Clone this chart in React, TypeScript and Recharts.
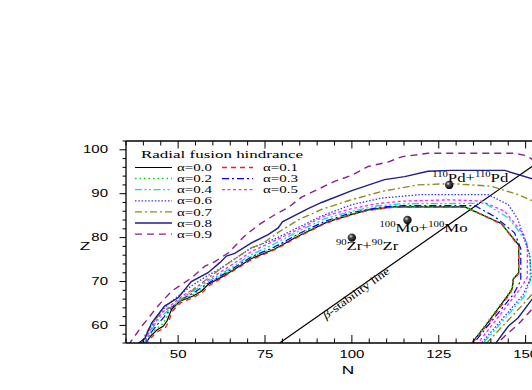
import React from 'react'
import {
  ComposedChart,
  Line,
  Scatter,
  XAxis,
  YAxis,
  Legend,
  ReferenceDot,
  Label,
} from 'recharts'

// alpha of the radial fusion hindrance, one contour each
const ALPHAS = ['0.0', '0.1', '0.2', '0.3', '0.4', '0.5', '0.6', '0.7', '0.8', '0.9']

// contour points, [N, Z]
const A00 = [[40.3, 55.5], [42, 57.5], [44, 59], [45.7, 59.8], [46.8, 61], [48.1, 63.6], [50.5, 65.5], [54.3, 66.7], [56.7, 67.8], [58.6, 69.3], [62.5, 71], [66, 72.7], [71, 75.2], [77.8, 77.4], [82.6, 79.5], [85.5, 80.7], [92.2, 83.3], [95.1, 84.1], [100, 85.3], [104.7, 86.3], [112, 87], [132.5, 87], [143, 83.2], [148, 78.3], [148, 72], [146.4, 70.5], [146.2, 68.6], [145.4, 67.4], [138.7, 60.2], [134, 55.5]]
const A01 = [[40.5, 55.5], [42.3, 57.3], [44.5, 58.8], [46.3, 59.4], [47.2, 60.8], [48.4, 63.3], [50.8, 65.2], [54.5, 66.4], [56.9, 67.5], [58.8, 69], [62.5, 70.8], [66.2, 72.6], [71.2, 75], [78, 77.3], [82.8, 79.4], [85.6, 80.6], [92.3, 83.2], [100, 85.2], [104.8, 86.2], [112, 86.9], [132.8, 86.9], [143.2, 83], [148, 78], [148, 71.8], [146.5, 70.3], [146.3, 68.5], [145.5, 67.2], [138.8, 60], [134.2, 55.5]]
const A02 = [[40.2, 55.5], [41.8, 57.7], [43.8, 59.3], [45.5, 60.3], [46.5, 61.5], [47.8, 63.8], [50.3, 65.6], [54, 66.9], [56.5, 68], [58.4, 69.5], [62.4, 71.2], [65.8, 72.9], [70.8, 75.4], [77.6, 77.6], [82.4, 79.7], [85.4, 80.9], [92.1, 83.4], [100, 85.4], [104.6, 86.4], [112, 87.1], [132.4, 87.1], [142.9, 83.3], [148.1, 78.4], [148.1, 72], [146.4, 70.6], [146.1, 68.7], [145.3, 67.5], [138.6, 60.3], [134, 55.5]]
const A03 = [[40, 55.5], [41.8, 58], [43.8, 60], [45.8, 61.8], [47.8, 63.8], [50.8, 65.9], [54, 67.2], [58, 69.3], [62.5, 71.4], [66, 73.1], [71, 75.6], [77.8, 77.9], [85, 81], [92.2, 83.7], [100, 85.7], [108, 86.9], [115, 87.3], [135.3, 87.3], [141.1, 84.8], [146.8, 81.1], [148.6, 77.5], [148.6, 70.2], [147.5, 68.6], [146.5, 67.1], [134.6, 55.5]]
const A04 = [[39.9, 55.5], [41.8, 58.2], [43.6, 60.6], [45.6, 62.4], [47.8, 63.9], [50.8, 66.1], [54, 67.6], [58, 69.7], [62.5, 71.8], [66, 73.5], [71, 76.1], [77.8, 78.6], [85, 81.6], [92.2, 84.3], [100, 86], [107, 87.2], [114.2, 87.7], [138.3, 87.8], [145, 84.5], [147.3, 82.2], [150.3, 79], [151.3, 75], [151.3, 70.2], [149.7, 66.7], [137.3, 55.5]]
const A05 = [[39.7, 55.5], [41.5, 58.2], [43.4, 60.8], [45.4, 62.9], [48, 64.6], [51, 66.6], [54, 68.1], [58, 70.1], [62.5, 72.3], [66, 74.1], [71, 76.8], [77.8, 79.3], [82.6, 81.1], [92.2, 84.9], [100, 86.6], [107, 87.7], [114.2, 88.3], [128.6, 88.6], [137.3, 88.3], [144, 86], [146.8, 83.3], [149.6, 80.5], [150.5, 77.5], [150.5, 71], [148.3, 68.2], [135.8, 55.5]]
const A06 = [[39.4, 55.5], [41.3, 58.5], [43.3, 61.2], [45.5, 63.6], [48, 65.4], [51, 67.3], [54, 69.1], [58, 71.1], [62.5, 73.1], [66, 75], [71, 77.6], [77.8, 79.7], [87.4, 83.4], [91.2, 84.9], [100, 87.5], [108.5, 89], [120, 89.8], [139.2, 89.8], [145, 87.5], [147.8, 84.1], [149.5, 80], [151.2, 76], [151.6, 71], [149.3, 67], [136.8, 55.5]]
const A07 = [[39, 55.5], [41, 58.5], [43, 61], [45.2, 63], [49, 64.6], [52, 66.6], [56.2, 69.3], [59, 71], [62.5, 73.1], [66, 75], [71.1, 77.7], [74, 78.5], [79, 81.3], [84.5, 84], [91.2, 86.4], [98.9, 88.4], [108.5, 90.5], [119, 92], [128.6, 92.3], [140.1, 91.7], [147.8, 89.8], [152.2, 88.3], [156, 86], [156, 70], [152.2, 67.4], [148.8, 64.4], [138.2, 55.5]]
const A08 = [[37.8, 55.5], [40.4, 57], [42.4, 60.6], [46.1, 64.4], [50, 66.3], [53.8, 70], [58.6, 72], [62, 74.3], [63.9, 75.8], [66.3, 76.4], [71.1, 78.8], [75.9, 80.7], [78.8, 82.2], [80, 83.6], [87.4, 86.6], [91.3, 88], [100, 90.7], [109.4, 93.2], [115.2, 93.9], [121.9, 95.1], [128.6, 95.3], [144, 95.3], [152.2, 93.3], [156, 91], [156, 68], [152.2, 66.3], [147.8, 61.7], [145, 59.8], [141, 55.5]]
const A09 = [[35.6, 55.5], [37.2, 57.2], [39.5, 59.8], [41.6, 61.8], [43.3, 63.6], [45.2, 65.3], [48.1, 67.8], [53.8, 70.8], [57.7, 73.5], [60.5, 74.5], [64.4, 76.5], [69.2, 80.4], [73, 82.8], [77.8, 85.2], [81.6, 86.8], [85.5, 89.2], [95, 92.8], [100, 94.2], [104.7, 96.2], [110.4, 97.2], [114.3, 98.4], [121.9, 99.2], [146.8, 99.2], [150, 98.7], [152.2, 97.7], [156, 95], [156, 66], [152.2, 64], [147.8, 60.2], [145, 58.3], [142.5, 56.4], [141.5, 55.5]]

const CONTOURS = [A00, A01, A02, A03, A04, A05, A06, A07, A08, A09]

// beta-stability line, [N, Z]
const BETA_LINE = [[79.2, 56], [105, 70.3], [133.6, 86.1], [156, 98.5]]

// symmetric systems and their compound nuclei
const SYS_MASS = ['90', '100', '110']
const SYS_ELEM = ['Zr', 'Mo', 'Pd']
const SYS_N = [100, 116, 128]
const SYS_Z = [80, 84, 92]

const X_TICKS = [35, 40, 45, 50, 55, 60, 65, 70, 75, 80, 85, 90, 95, 100, 105, 110, 115, 120, 125, 130, 135, 140, 145, 150, 155]
const Y_TICKS = [56, 58, 60, 62, 64, 66, 68, 70, 72, 74, 76, 78, 80, 82, 84, 86, 88, 90, 92, 94, 96, 98, 100, 102]

const STYLES = [
  { color: '#000000', dash: undefined, width: 1.2 },
  { color: '#ff1a1a', dash: '5 4', width: 1.3 },
  { color: '#00dd00', dash: '1.5 3', width: 1.5 },
  { color: '#0000ff', dash: '7 3 2 3', width: 1.2 },
  { color: '#00e0e0', dash: '7 2.5 2 2.5 2 2.5', width: 1.3 },
  { color: '#ff22ff', dash: '3 2.5', width: 1.3 },
  { color: '#3434ff', dash: '1.5 1.8', width: 1.3 },
  { color: '#8c8c1e', dash: '7 3 2 3', width: 1.4 },
  { color: '#1e1e8e', dash: undefined, width: 1.4 },
  { color: '#8e1e8e', dash: '7 5', width: 1.4 },
]

const LEFT_COL = [0, 2, 4, 6, 7, 8, 9]
const RIGHT_COL = [1, 3, 5]
const LABEL_SHIFT = [[-16, 12], [-28, 12], [-17, -3]]

const SANS = "'Liberation Sans', Arial, sans-serif"
const SERIF = "'Liberation Serif', 'Times New Roman', serif"
const STRETCH = 1.47

const toPoints = (arr: number[][]) => arr.map(([n, z]) => ({ n, z }))

function BottomTick(props: any) {
  const { x, y, payload } = props
  const v = payload.value
  const major = v % 25 === 0
  return (
    <g>
      <line x1={x} x2={x} y1={y} y2={y - (major ? 8 : 4.5)} stroke="#000" strokeWidth={1} />
      {major && (
        <text
          transform={`translate(${x},${y + 15}) scale(${STRETCH},1)`}
          textAnchor="middle"
          fontFamily={SANS}
          fontSize={10.2}
          fill="#000"
        >
          {v}
        </text>
      )}
    </g>
  )
}

function TopTick(props: any) {
  const { x, y, payload } = props
  const major = payload.value % 25 === 0
  return <line x1={x} x2={x} y1={y} y2={y + (major ? 7.5 : 4.5)} stroke="#000" strokeWidth={1} />
}

function LeftTick(props: any) {
  const { x, y, payload } = props
  const v = payload.value
  const major = v % 10 === 0
  return (
    <g>
      <line x1={x - (major ? 6.5 : 3.5)} x2={x} y1={y} y2={y} stroke="#000" strokeWidth={1} />
      {major && (
        <text
          transform={`translate(${x - 18},${y + 3.7}) scale(${STRETCH},1)`}
          textAnchor="end"
          fontFamily={SANS}
          fontSize={10.2}
          fill="#000"
        >
          {v}
        </text>
      )}
    </g>
  )
}

function Nucleus(props: any) {
  const { cx, cy, index } = props
  const [dx, dy] = LABEL_SHIFT[index]
  const id = `ball-${index}`
  return (
    <g>
      <defs>
        <radialGradient id={id} cx="38%" cy="35%" r="70%">
          <stop offset="0%" stopColor="#d8d8d8" />
          <stop offset="35%" stopColor="#444" />
          <stop offset="100%" stopColor="#000" />
        </radialGradient>
      </defs>
      <circle cx={cx} cy={cy} r={4.2} fill={`url(#${id})`} />
      <text
        transform={`translate(${cx + dx},${cy + dy}) scale(1.34,1)`}
        fontFamily={SERIF}
        fontSize={12.5}
        fill="#000"
      >
        <tspan fontSize={8} dy={-5}>{SYS_MASS[index]}</tspan>
        <tspan dy={5}>{SYS_ELEM[index]}+</tspan>
        <tspan fontSize={8} dy={-5}>{SYS_MASS[index]}</tspan>
        <tspan dy={5}>{SYS_ELEM[index]}</tspan>
      </text>
    </g>
  )
}

function BetaLabel(props: any) {
  const { cx, cy } = props
  return (
    <text
      transform={`translate(${cx},${cy}) rotate(-36) scale(1.25,1)`}
      textAnchor="middle"
      fontFamily={SERIF}
      fontSize={11}
      fill="#000"
    >
      <tspan fontStyle="italic">β</tspan>-stability line
    </text>
  )
}

function HindranceLegend() {
  const rowY = (i: number) => 22.5 + i * 11.1
  const sample = (k: number, x1: number, x2: number, y: number) => (
    <line
      x1={x1}
      x2={x2}
      y1={y}
      y2={y}
      stroke={STYLES[k].color}
      strokeDasharray={STYLES[k].dash}
      strokeWidth={STYLES[k].width}
    />
  )
  const label = (k: number, x: number, y: number) => (
    <text
      transform={`translate(${x},${y + 3.6}) scale(1.5,1)`}
      fontFamily={SERIF}
      fontSize={10}
      fill="#000"
    >
      {`α=${ALPHAS[k]}`}
    </text>
  )
  return (
    <svg width={200} height={100} style={{ display: 'block', overflow: 'visible' }}>
      <text
        x={11}
        y={13}
        textLength={162}
        lengthAdjust="spacingAndGlyphs"
        fontFamily={SERIF}
        fontSize={10.5}
        fill="#000"
      >
        Radial fusion hindrance
      </text>
      {LEFT_COL.map((k, i) => (
        <g key={k}>
          {sample(k, 5, 42, rowY(i))}
          {label(k, 47, rowY(i))}
        </g>
      ))}
      {RIGHT_COL.map((k, i) => (
        <g key={k}>
          {sample(k, 92, 123, rowY(i))}
          {label(k, 133, rowY(i))}
        </g>
      ))}
    </svg>
  )
}

export default function App() {
  const nuclei = SYS_N.map((n, i) => ({ n, z: SYS_Z[i] }))
  return (
    <div style={{ position: 'absolute', left: 0, top: 0, width: 532, height: 390, overflow: 'hidden', background: '#fff' }}>
      <ComposedChart width={560} height={390} margin={{ top: 111, right: 17, bottom: 17, left: 66 }}>
        <XAxis
          type="number"
          dataKey="n"
          domain={[35, 155]}
          allowDataOverflow
          ticks={X_TICKS}
          interval={0}
          height={30}
          tickSize={0}
          tickMargin={0}
          tick={<BottomTick />}
          tickLine={false}
          axisLine={{ stroke: '#000', strokeWidth: 1.3 }}
        >
          <Label
            content={(p: any) => (
              <text
                transform={`translate(${p.viewBox.x + 222},${p.viewBox.y + 31}) scale(1.5,1)`}
                textAnchor="middle"
                fontFamily={SANS}
                fontSize={11.5}
                fill="#000"
              >
                N
              </text>
            )}
          />
        </XAxis>
        <XAxis
          xAxisId="top"
          orientation="top"
          type="number"
          dataKey="n"
          domain={[35, 155]}
          allowDataOverflow
          ticks={X_TICKS}
          interval={0}
          height={30}
          tickSize={0}
          tickMargin={0}
          tick={<TopTick />}
          tickLine={false}
          axisLine={{ stroke: '#000', strokeWidth: 1.3 }}
        />
        <YAxis
          type="number"
          dataKey="z"
          domain={[56, 102]}
          allowDataOverflow
          ticks={Y_TICKS}
          interval={0}
          width={60}
          tickSize={0}
          tickMargin={0}
          tick={<LeftTick />}
          tickLine={false}
          axisLine={{ stroke: '#000', strokeWidth: 1.3 }}
        >
          <Label
            content={(p: any) => (
              <text
                transform={`translate(${p.viewBox.x + p.viewBox.width - 41},${p.viewBox.y + 109}) scale(1.5,1)`}
                textAnchor="middle"
                fontFamily={SANS}
                fontSize={11.5}
                fill="#000"
              >
                Z
              </text>
            )}
          />
        </YAxis>
        <Legend
          layout="vertical"
          align="center"
          verticalAlign="middle"
          content={() => <HindranceLegend />}
          wrapperStyle={{ left: 130, top: 145, width: 200, height: 100 }}
        />
        <Line
          data={toPoints(BETA_LINE)}
          dataKey="z"
          stroke="#000"
          strokeWidth={1.2}
          dot={false}
          activeDot={false}
          legendType="none"
          isAnimationActive={false}
        />
        {CONTOURS.map((c, k) => (
          <Line
            key={ALPHAS[k]}
            name={`α=${ALPHAS[k]}`}
            data={toPoints(c)}
            dataKey="z"
            type="linear"
            stroke={STYLES[k].color}
            strokeDasharray={STYLES[k].dash}
            strokeWidth={STYLES[k].width}
            dot={false}
            activeDot={false}
            isAnimationActive={false}
          />
        ))}
        <Scatter data={nuclei} dataKey="z" shape={<Nucleus />} legendType="none" isAnimationActive={false} />
        <ReferenceDot x={101.8} y={66.7} r={0} shape={<BetaLabel />} />
      </ComposedChart>
    </div>
  )
}
